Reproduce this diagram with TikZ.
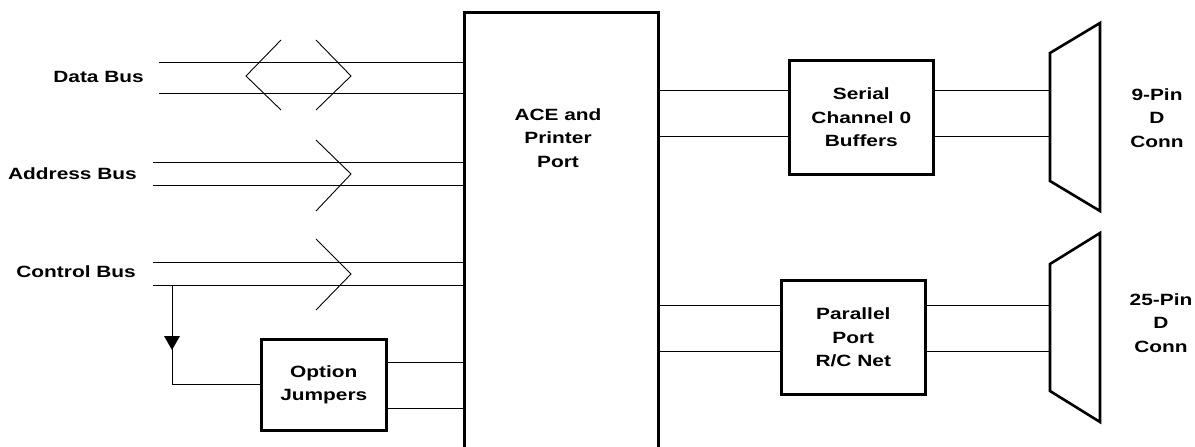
\documentclass[tikz,border=0pt]{standalone}
\usepackage{fontspec}
\setmainfont[FakeStretch=1.28]{Liberation Sans}
\begin{document}
\begin{tikzpicture}[x=1pt,y=-1pt,
  thin line/.style={line width=0.9pt},
  thick box/.style={draw,line width=2.6pt,inner sep=0pt},
  lbl/.style={font=\bfseries\fontsize{16.3}{23.3}\selectfont,align=center,inner sep=0pt},
  chev/.style={line width=0.9pt}]
\useasboundingbox (0,0) rectangle (1195,447);
\clip (0,0) rectangle (1195,447);
% main block
\node[thick box,minimum width=194pt,minimum height=460pt,anchor=north west] (ace) at (463,11) {};
\node[lbl] (acet) at (558,138) {ACE and\\Printer\\Port};
% boxes
\node[thick box,minimum width=144pt,minimum height=114pt,anchor=north west] (ser) at (788,59) {};
\node[lbl] at (ser.center) {Serial\\Channel 0\\Buffers};
\node[thick box,minimum width=144pt,minimum height=114pt,anchor=north west] (par) at (780,279) {};
\node[lbl] at (par.center) {Parallel\\Port\\R/C Net};
\node[thick box,minimum width=125pt,minimum height=91pt,anchor=north west] (opt) at (260,338) {};
\node[lbl] at (opt.center) {Option\\Jumpers};
% labels
\node[lbl,anchor=east] (db) at (144,77) {Data Bus};
\node[lbl,anchor=east] (ab) at (137,174) {Address Bus};
\node[lbl,anchor=east] (cb) at (136,272) {Control Bus};
\node[lbl] (c9) at (1157,118) {9-Pin\\D\\Conn};
\node[lbl] (c25) at (1161,323) {25-Pin\\D\\Conn};
% bus start coordinates
\coordinate (d1) at (159,62); \coordinate (d2) at (159,93);
\coordinate (a1) at (153,162); \coordinate (a2) at (153,185);
\coordinate (k1) at (153,262); \coordinate (k2) at (153,285);
% bus lines
\draw[thin line] (d1) -- (d1 -| ace.west);
\draw[thin line] (d2) -- (d2 -| ace.west);
\draw[thin line] (a1) -- (a1 -| ace.west);
\draw[thin line] (a2) -- (a2 -| ace.west);
\draw[thin line] (k1) -- (k1 -| ace.west);
\draw[thin line] (k2) -- (k2 -| ace.west);
% chevrons
\draw[chev] (281,40) -- (246,76) -- (281,110);
\draw[chev] (316,40) -- (351,76) -- (316,110);
\draw[chev] (316,140) -- (351,174) -- (316,211);
\draw[chev] (316,239) -- (351,274) -- (316,310);
% control branch to option jumpers
\coordinate (br) at (172,285);
\draw[thin line] (br) -- (br |- opt.west) -- (opt.west);
\fill (164,336) -- (180,336) -- (172,350) -- cycle;
% option jumpers to ace
\coordinate (o1) at (385,362); \coordinate (o2) at (385,408);
\draw[thin line] (o1) -- (o1 -| ace.west);
\draw[thin line] (o2) -- (o2 -| ace.west);
% ace to serial / parallel
\coordinate (s1) at (657,90); \coordinate (s2) at (657,136);
\coordinate (p1) at (657,305); \coordinate (p2) at (657,351);
\draw[thin line] (s1) -- (s1 -| ser.west);
\draw[thin line] (s2) -- (s2 -| ser.west);
\draw[thin line] (p1) -- (p1 -| par.west);
\draw[thin line] (p2) -- (p2 -| par.west);
% connectors
\draw[line width=2.6pt,line join=miter] (1050,53) -- (1100,23) -- (1100,211) -- (1050,181) -- cycle;
\draw[line width=2.6pt,line join=miter] (1050,264) -- (1100,233) -- (1100,422) -- (1050,391) -- cycle;
\coordinate (k9) at (1050,90);
\coordinate (k25) at (1050,305);
\draw[thin line] (ser.east |- s1) -- (k9);
\draw[thin line] (ser.east |- s2) -- (k9 |- s2);
\draw[thin line] (par.east |- p1) -- (k25);
\draw[thin line] (par.east |- p2) -- (k25 |- p2);
\end{tikzpicture}
\end{document}
